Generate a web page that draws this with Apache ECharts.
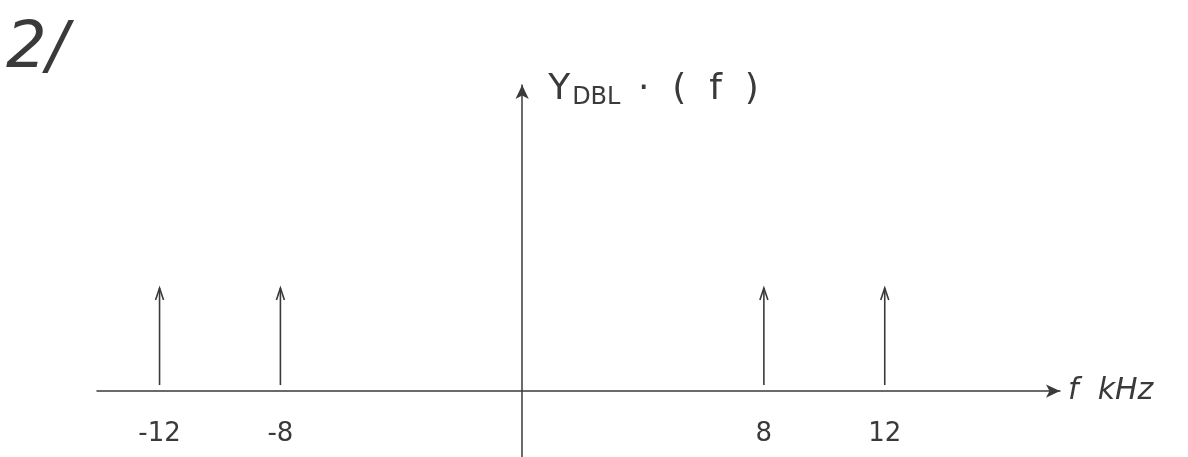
<!DOCTYPE html>
<html>
<head>
<meta charset="utf-8">
<script src="https://cdn.jsdelivr.net/npm/echarts@6/dist/echarts.min.js"></script>
<style>
  html, body { margin: 0; padding: 0; background: #fff; }
  #chart { width: 1188px; height: 457px; }
</style>
</head>
<body>
<div id="chart"></div>
<script>
// impulse frequencies (kHz) and their heights
const freqs = [-12, -8, 8, 12]
const heights = [1, 1, 1, 1]
const tickLabels = [-12, -8, 8, 12]

const ink = '#3a3a3a'
const impulses = freqs.map((f, i) => [f, heights[i]])

const chart = echarts.init(document.getElementById('chart'))
chart.setOption({
  backgroundColor: '#fff',
  animation: false,
  grid: { left: 97, right: 128, top: 85, bottom: 0, outerBoundsMode: 'none' },
  graphic: [
    { type: 'text', left: 6, top: 18, style: { text: '2/', font: 'italic 64px "DejaVu Sans"', fill: ink } }
  ],
  xAxis: {
    type: 'value',
    min: -14.07,
    max: 17.8,
    splitLine: { show: false },
    axisTick: { show: false, customValues: tickLabels },
    axisLine: { onZero: true, symbol: ['none', 'arrow'], symbolSize: [10, 14], lineStyle: { color: ink, width: 1.5 } },
    axisLabel: {
      customValues: tickLabels,
      showMinLabel: true,
      showMaxLabel: true,
      margin: -36,
      color: ink,
      fontSize: 26,
      fontFamily: 'DejaVu Sans'
    },
    name: 'f  kHz',
    nameLocation: 'end',
    nameGap: 8,
    nameTextStyle: { color: ink, fontSize: 30, fontFamily: 'DejaVu Sans', fontStyle: 'italic' }
  },
  yAxis: {
    type: 'value',
    min: -0.64,
    max: 2.97,
    splitLine: { show: false },
    axisTick: { show: false },
    axisLabel: { show: false },
    axisLine: { onZero: true, symbol: ['none', 'arrow'], symbolSize: [10, 14], lineStyle: { color: ink, width: 1.5 } },
    name: 'Y{sub|DBL} ·  (  f  )',
    nameLocation: 'end',
    nameGap: 15,
    nameTextStyle: {
      align: 'left',
      verticalAlign: 'top',
      padding: [0, 0, 0, 26],
      color: ink,
      fontSize: 36,
      fontFamily: 'DejaVu Sans',
      rich: {
        sub: { fontSize: 24, color: ink, padding: [16, 6, 0, 2], fontFamily: 'DejaVu Sans' }
      }
    }
  },
  series: [{
    type: 'custom',
    data: impulses,
    renderItem: (params, api) => {
      const base = api.coord([api.value(0), 0])
      const tip = api.coord([api.value(0), api.value(1)])
      return {
        type: 'group',
        children: [
          { type: 'line', shape: { x1: base[0], y1: base[1] - 6, x2: tip[0], y2: tip[1] }, style: { stroke: ink, lineWidth: 1.6 } },
          { type: 'polyline', shape: { points: [[tip[0] - 4, tip[1] + 12], [tip[0], tip[1]], [tip[0] + 4, tip[1] + 12]] }, style: { stroke: ink, lineWidth: 1.6, fill: null } }
        ]
      }
    }
  }]
})
</script>
</body>
</html>
